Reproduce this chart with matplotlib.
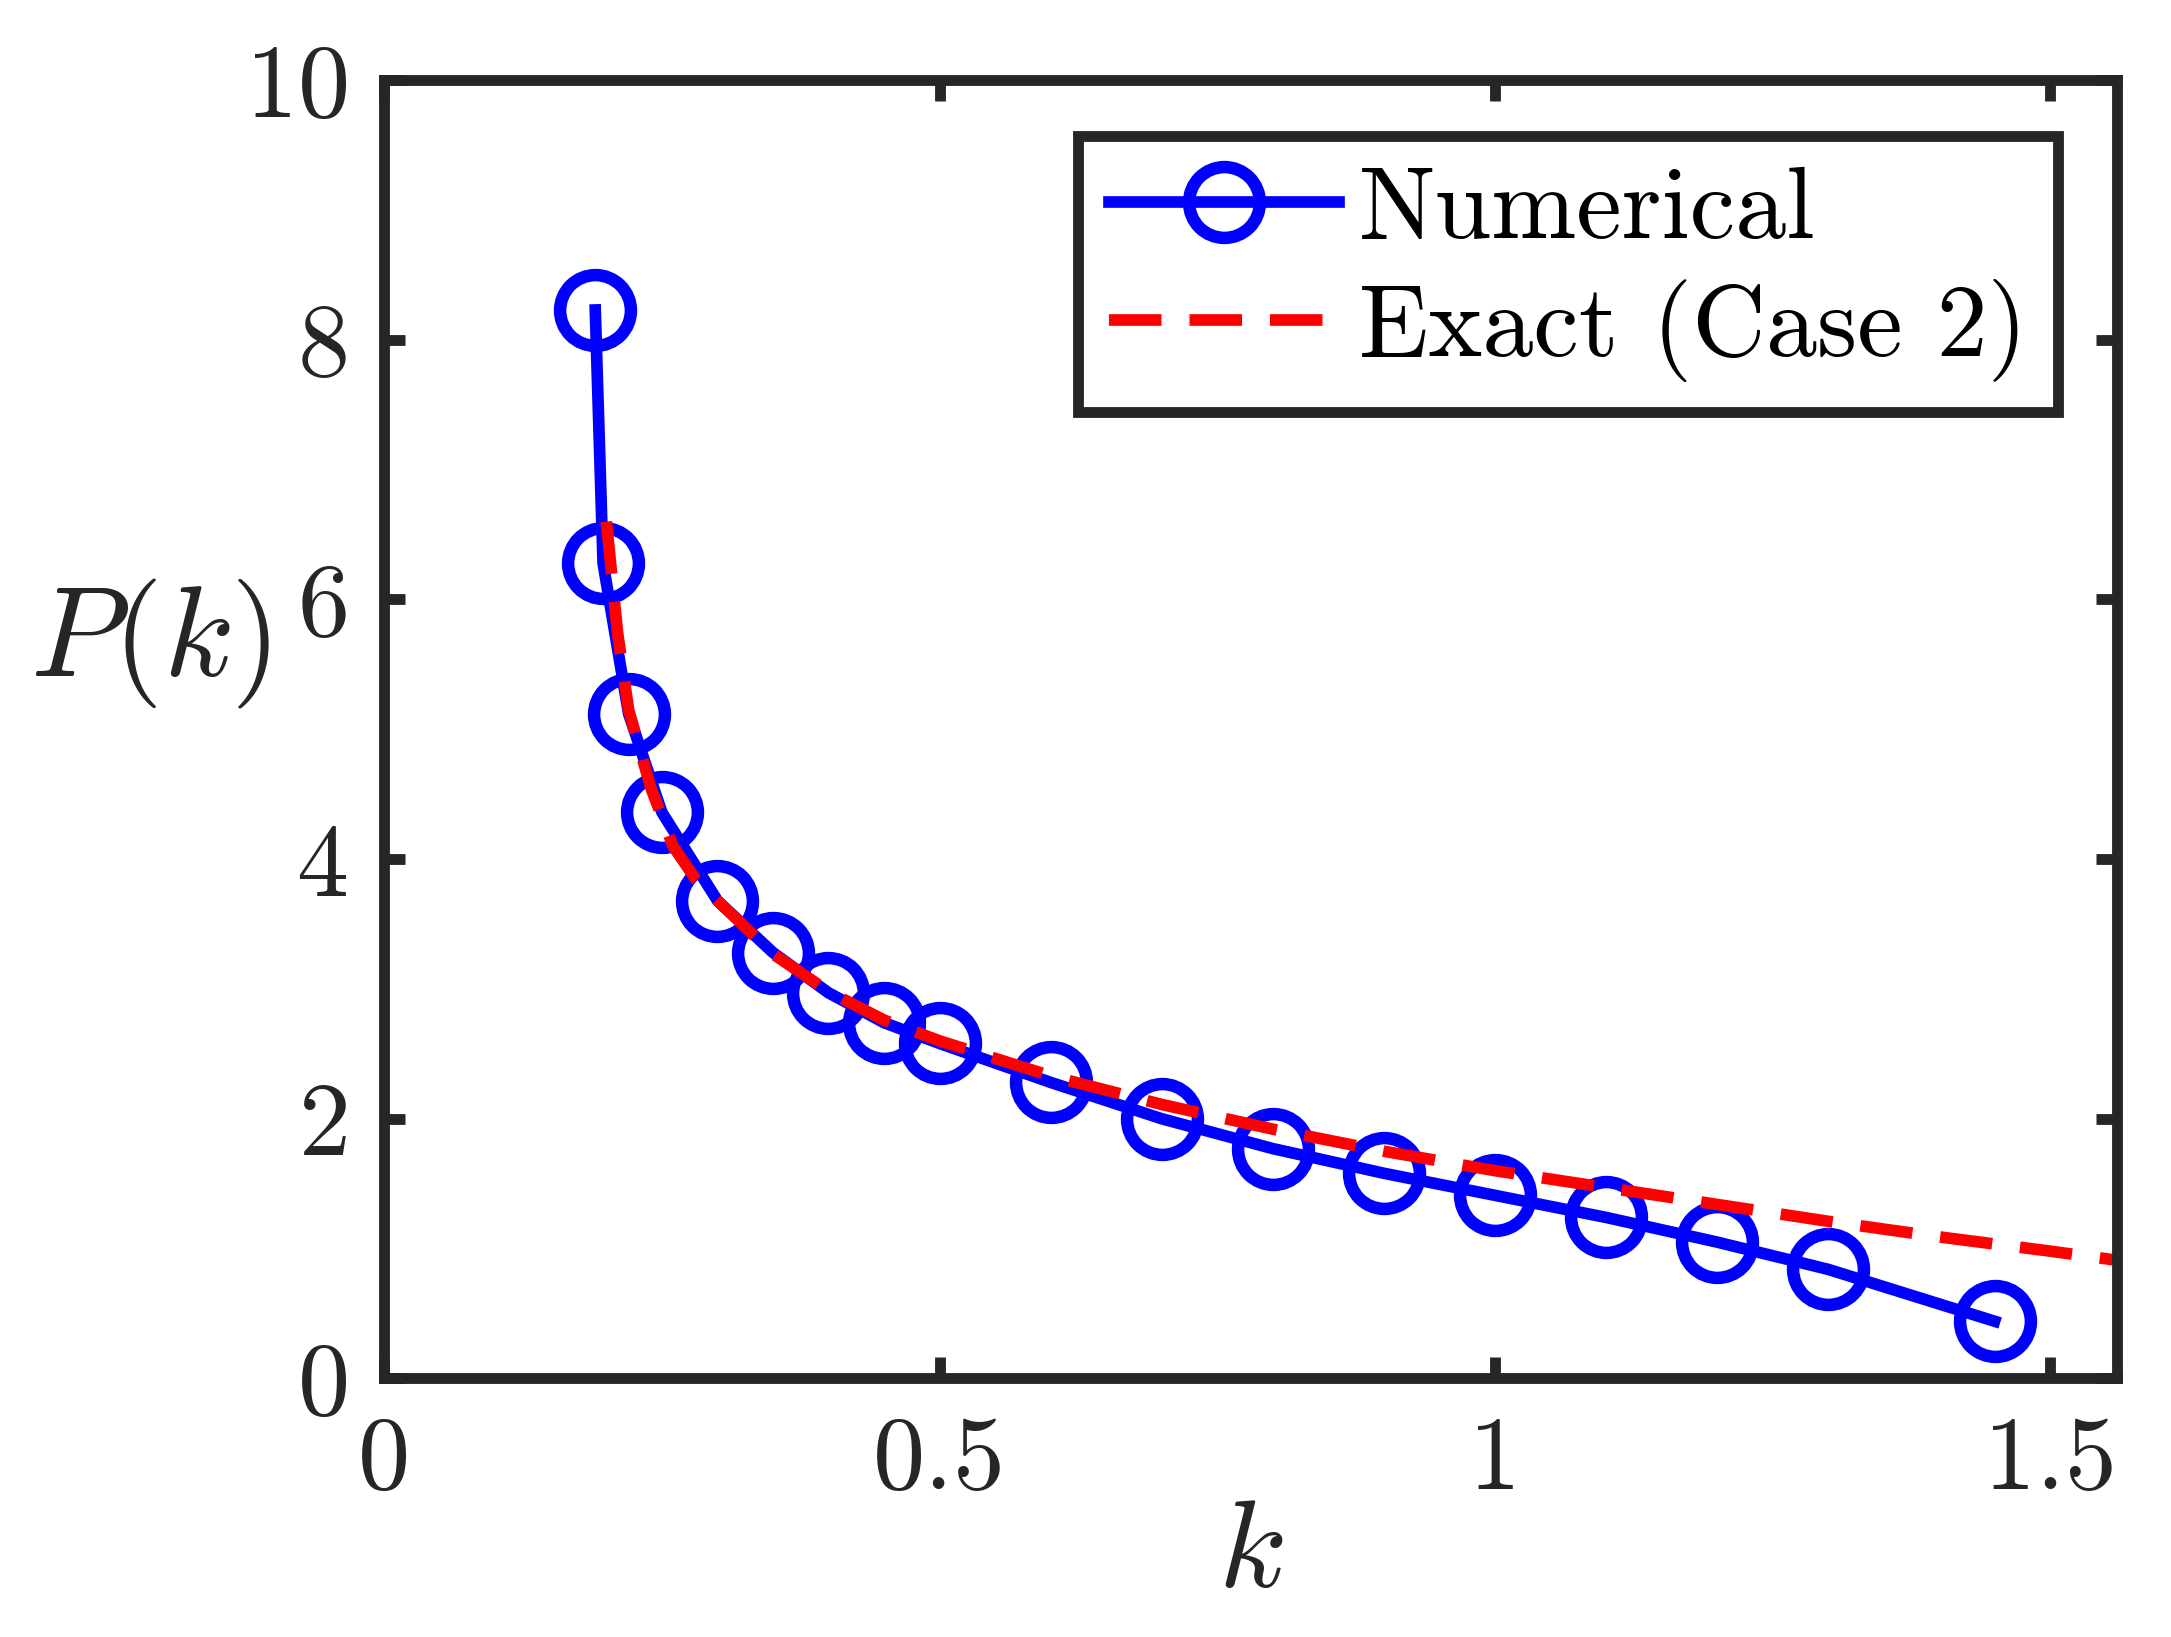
import matplotlib
matplotlib.use("Agg")
import matplotlib.pyplot as plt

# numerical solution (markers)
k_num = [0.19, 0.197, 0.22, 0.25, 0.30, 0.35, 0.40, 0.45, 0.50, 0.60,
         0.70, 0.80, 0.90, 1.00, 1.10, 1.20, 1.30, 1.45]
P_num = [8.23, 6.28, 5.12, 4.36, 3.68, 3.28, 2.97, 2.74, 2.58, 2.28,
         2.00, 1.77, 1.58, 1.41, 1.24, 1.05, 0.84, 0.44]

# exact curve (case 2)
k_ex = [0.20, 0.21, 0.22, 0.24, 0.26, 0.28, 0.30, 0.35, 0.40, 0.45, 0.50,
        0.60, 0.70, 0.80, 0.90, 1.00, 1.10, 1.20, 1.30, 1.40, 1.50, 1.56]
P_ex = [6.60, 5.75, 5.15, 4.55, 4.10, 3.85, 3.68, 3.27, 2.98, 2.76, 2.60,
        2.33, 2.11, 1.92, 1.75, 1.60, 1.47, 1.34, 1.21, 1.09, 0.98, 0.91]

xticks = [0, 0.5, 1, 1.5]
xticklabels = ["0", "0.5", "1", "1.5"]
yticks = [0, 2, 4, 6, 8, 10]

plt.rcParams["font.family"] = "cmr10"
plt.rcParams["mathtext.fontset"] = "cm"
plt.rcParams["axes.formatter.use_mathtext"] = True

dark = "#262626"
fig = plt.figure(figsize=(2171 / 300, 1637 / 300), dpi=300)
ax = fig.add_axes([0.177, 0.158, 0.798, 0.793])

ax.plot(k_num, P_num, "-o", color="blue", lw=2.8, ms=17, mew=3.0,
        mfc="none", label="Numerical")
ax.plot(k_ex, P_ex, "--", color="red", lw=2.8, dashes=(4.5, 2.4),
        label="Exact (Case 2)")

ax.set_xlim(0, 1.56)
ax.set_ylim(0, 10)
ax.set_xticks(xticks)
ax.set_xticklabels(xticklabels)
ax.set_yticks(yticks)
ax.tick_params(direction="in", length=5, width=2.6, colors=dark,
               labelsize=25, top=True, right=True, pad=9)
for s in ax.spines.values():
    s.set_linewidth(2.6)
    s.set_color(dark)

ax.set_xlabel(r"$k$", fontsize=30, color=dark, labelpad=-2)
ax.set_ylabel(r"$P(k)$", fontsize=31, color=dark, rotation=0)
ax.yaxis.set_label_coords(-0.135, 0.515)

leg = ax.legend(loc="upper right", fontsize=24.5, fancybox=False,
                framealpha=1, edgecolor=dark, handlelength=2.25,
                borderpad=0.3, labelspacing=0.2, handletextpad=0.2,
                borderaxespad=0, bbox_to_anchor=(0.966, 0.957))
leg.get_frame().set_linewidth(2.6)

fig.savefig("out.png", dpi=300)
